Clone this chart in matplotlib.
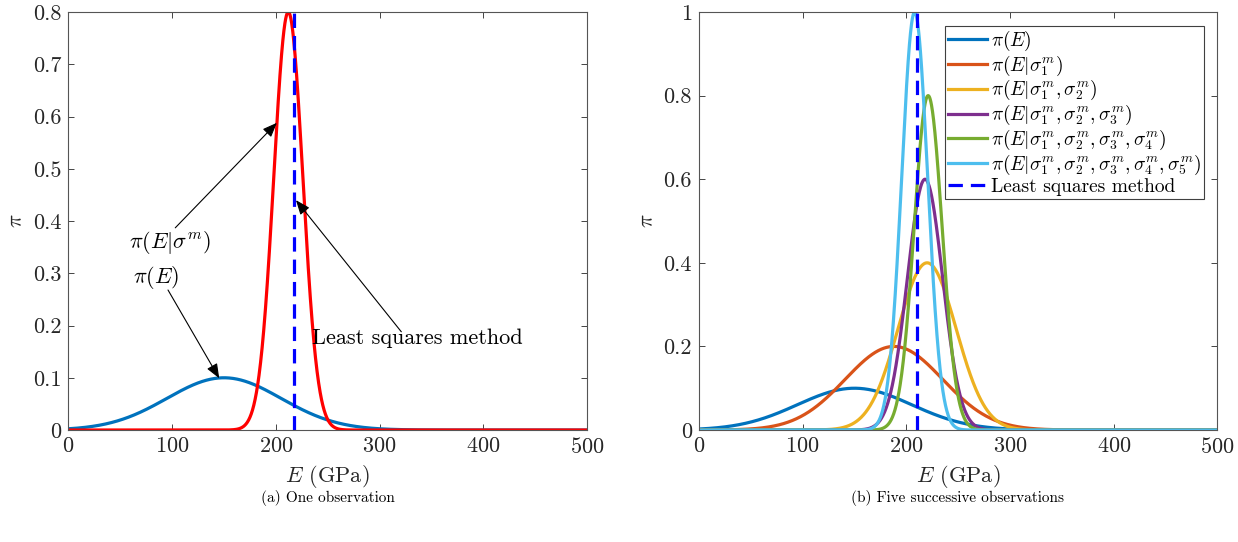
import numpy as np
import matplotlib
matplotlib.use("Agg")
import matplotlib.pyplot as plt

plt.rcParams['font.family'] = ['cmr10', 'DejaVu Serif']
plt.rcParams['mathtext.fontset'] = 'cm'
plt.rcParams['axes.formatter.use_mathtext'] = True

# posterior curves: peak height, centre and spread (GPa)
E = np.linspace(0, 500, 2001)

prior_mu, prior_sd, prior_peak = 150, 55, 0.1
one_mu, one_sd, one_peak = 212, 14, 0.8
ls_left = 217.5

succ_labels = [r'$\pi(E)$',
               r'$\pi(E|\sigma_1^m)$',
               r'$\pi(E|\sigma_1^m,\sigma_2^m)$',
               r'$\pi(E|\sigma_1^m,\sigma_2^m,\sigma_3^m)$',
               r'$\pi(E|\sigma_1^m,\sigma_2^m,\sigma_3^m,\sigma_4^m)$',
               r'$\pi(E|\sigma_1^m,\sigma_2^m,\sigma_3^m,\sigma_4^m,\sigma_5^m)$']
succ_mu = [150, 188, 220, 218, 221, 208]
succ_sd = [55, 47, 28, 17, 13.5, 12.5]
succ_peak = [0.1, 0.2, 0.4, 0.6, 0.8, 1.0]
ls_right = 210

matlab = ['#0072BD', '#D95319', '#EDB120', '#7E2F8E', '#77AC30', '#4DBEEE']


def bell(mu, sd, peak):
    return peak * np.exp(-0.5 * ((E - mu) / sd) ** 2)


def style(ax, ymax, yticks):
    ax.set_xlim(0, 500)
    ax.set_ylim(0, ymax)
    ax.set_xticks([0, 100, 200, 300, 400, 500])
    ax.set_yticks(yticks)
    ax.set_yticklabels(['%g' % t for t in yticks])
    ax.tick_params(direction='in', length=4, width=0.6, top=True, right=True,
                   labelsize=16, colors='#262626', pad=5)
    for s in ax.spines.values():
        s.set_color('#555555')
        s.set_linewidth(0.8)
    ax.set_xlabel(r'$E$ (GPa)', fontsize=16, color='#262626')
    ax.set_ylabel(r'$\pi$', fontsize=16, color='#262626')
    ax.yaxis.set_label_coords(-0.081, 0.5)
    ax.xaxis.set_label_coords(0.5, -0.08)


fig = plt.figure(figsize=(12.38, 5.42), dpi=100)
ax1 = fig.add_axes([0.0553, 0.2066, 0.4188, 0.7712])
ax2 = fig.add_axes([0.5646, 0.2066, 0.4188, 0.7712])

# (a) one observation
ax1.plot(E, bell(prior_mu, prior_sd, prior_peak), color='#0072BD', lw=2.3)
ax1.plot(E, bell(one_mu, one_sd, one_peak), color='#FF0000', lw=2.3)
ax1.axvline(ls_left, color='#0000FF', lw=2.3, dashes=(4.5, 2.5))
style(ax1, 0.8, np.arange(0, 0.81, 0.1).round(1))

arr = dict(arrowstyle='-|>,head_length=0.55,head_width=0.22', color='k',
           lw=0.8, mutation_scale=16, shrinkA=0, shrinkB=0)
ax1.annotate('', xy=(201, 0.588), xytext=(103, 0.387), arrowprops=arr)
ax1.annotate('', xy=(145.4, 0.099), xytext=(96, 0.268), arrowprops=arr)
ax1.annotate('', xy=(219.4, 0.44), xytext=(321, 0.188), arrowprops=arr)
ax1.text(98, 0.358, r'$\pi(E|\sigma^m)$', fontsize=16, ha='center', va='center')
ax1.text(84.4, 0.291, r'$\pi(E)$', fontsize=16, ha='center', va='center')
ax1.text(234.8, 0.176, 'Least squares method', fontsize=16, ha='left', va='center')

# (b) five successive observations
for lab, mu, sd, pk, c in zip(succ_labels, succ_mu, succ_sd, succ_peak, matlab):
    ax2.plot(E, bell(mu, sd, pk), color=c, lw=2.3, label=lab)
ax2.axvline(ls_right, color='#0000FF', lw=2.3, dashes=(4.5, 2.5),
            label='Least squares method')
style(ax2, 1.0, np.arange(0, 1.01, 0.2).round(1))
leg = ax2.legend(loc='upper right', fontsize=14, fancybox=False, framealpha=1,
                 edgecolor='#404040', handlelength=2.0, handletextpad=0.2,
                 labelspacing=0.04, borderpad=0.15, borderaxespad=0.7)
leg.get_frame().set_linewidth(0.8)

fig.text(0.265, 0.081, '(a) One observation', fontsize=11, ha='center', va='center')
fig.text(0.7738, 0.081, '(b) Five successive observations', fontsize=11,
         ha='center', va='center')

fig.savefig('out.png', dpi=100)
